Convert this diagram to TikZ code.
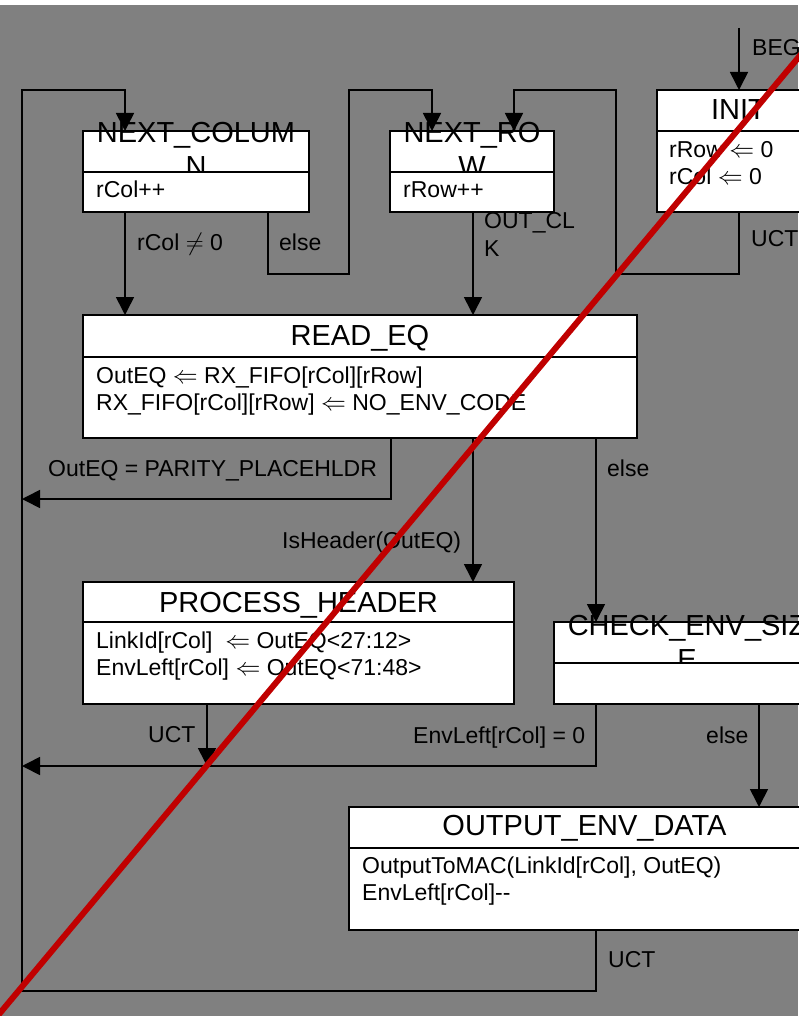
\documentclass[tikz,border=0pt]{standalone}
\usepackage{fontspec}
\setmainfont{Liberation Sans}
\usetikzlibrary{arrows.meta}
\definecolor{bggray}{RGB}{128,128,128}
\definecolor{slashred}{RGB}{192,0,0}
\tikzset{
  boxr/.style={draw=black, fill=white, line width=1.6pt, rectangle, inner sep=0pt, outer sep=0pt, anchor=north west},
  ttl/.style={font=\fontsize{29}{34}\selectfont, inner sep=0pt, anchor=base},
  bdy/.style={font=\fontsize{23}{27}\selectfont, inner sep=0pt, anchor=base west},
  lbl/.style={font=\fontsize{23}{27}\selectfont, inner sep=0pt, anchor=base west},
  conn/.style={line width=1.6pt, draw=black},
  arr/.style={conn, -{Triangle[length=18pt,width=18pt]}},
}
\begin{document}
\begin{tikzpicture}[x=1pt,y=-1pt]
\useasboundingbox (0,0) rectangle (798,1016);
\fill[white] (0,0) rectangle (798,1016);
\fill[bggray] (0,5) rectangle (798,1016);

% NEXT_COLUMN
\node[boxr, minimum width=226pt, minimum height=41pt] (nc) at (83,131) {};
\node[ttl] (nct1) at (196,143) {NEXT\_COLUM};
\node[ttl] (nct2) at (196,177) {N};
\node[boxr, minimum width=226pt, minimum height=40pt] (ncb) at (83,172) {};
\node[bdy] (ncl1) at (96,198) {rCol++};

% NEXT_ROW
\node[boxr, minimum width=164pt, minimum height=41pt] (nr) at (390,131) {};
\node[ttl] (nrt1) at (472,143) {NEXT\_RO};
\node[ttl] (nrt2) at (472,177) {W};
\node[boxr, minimum width=164pt, minimum height=40pt] (nrb) at (390,172) {};
\node[bdy] (nrl1) at (403,198) {rRow++};

% INIT
\node[boxr, minimum width=163pt, minimum height=41pt] (in) at (657,90) {};
\node[ttl] (int1) at (738.5,120) {INIT};
\node[boxr, minimum width=163pt, minimum height=81pt] (inb) at (657,131) {};
\node[bdy] (inl1) at (669,158) {rRow $\Leftarrow$ 0};
\node[bdy] (inl2) at (669,185) {rCol $\Leftarrow$ 0};

% READ_EQ
\node[boxr, minimum width=554pt, minimum height=42pt] (re) at (83,315) {};
\node[ttl] (ret1) at (360,345) {READ\_EQ};
\node[boxr, minimum width=554pt, minimum height=81pt] (reb) at (83,357) {};
\node[bdy] (rel1) at (96,383) {OutEQ $\Leftarrow$ RX\_FIFO[rCol][rRow]};
\node[bdy] (rel2) at (96,410) {RX\_FIFO[rCol][rRow] $\Leftarrow$ NO\_ENV\_CODE};

% PROCESS_HEADER
\node[boxr, minimum width=431pt, minimum height=40pt] (ph) at (83,582) {};
\node[ttl] (pht1) at (298.5,612) {PROCESS\_HEADER};
\node[boxr, minimum width=431pt, minimum height=82pt] (phb) at (83,622) {};
\node[bdy] (phl1) at (96,648) {LinkId[rCol]\ \ $\Leftarrow$ OutEQ<27:12>};
\node[bdy] (phl2) at (96,675) {EnvLeft[rCol] $\Leftarrow$ OutEQ<71:48>};

% CHECK_ENV_SIZE
\node[boxr, minimum width=266pt, minimum height=41pt] (ce) at (554,622) {};
\node[ttl] (cet1) at (687,635) {CHECK\_ENV\_SIZ};
\node[ttl] (cet2) at (687,669) {E};
\node[boxr, minimum width=266pt, minimum height=41pt] (ceb) at (554,663) {};

% OUTPUT_ENV_DATA
\node[boxr, minimum width=471pt, minimum height=41pt] (oe) at (349,807) {};
\node[ttl] (oet1) at (584.5,835) {OUTPUT\_ENV\_DATA};
\node[boxr, minimum width=471pt, minimum height=82pt] (oeb) at (349,848) {};
\node[bdy] (oel1) at (362,873) {OutputToMAC(LinkId[rCol], OutEQ)};
\node[bdy] (oel2) at (362,900) {EnvLeft[rCol]-{}-};

% free ends
\coordinate (beginpt) at (739,28);
\coordinate (leftA) at (22,499);
\coordinate (joinB) at (207,766);
\coordinate (leftB) at (22,766);

% connectors
\draw[arr] (beginpt) -- (739,0 |- in.north);
\draw[arr] (739,0 |- inb.south) -- (739,274) -- (616,274) -- (616,90) -- (514,90) -- (514,0 |- nr.north);
\draw[arr] (125,0 |- ncb.south) -- (125,0 |- re.north);
\draw[arr] (268,0 |- ncb.south) -- (268,274) -- (349,274) -- (349,90) -- (432,90) -- (432,0 |- nr.north);
\draw[arr] (473,0 |- nrb.south) -- (473,0 |- re.north);
\draw[arr] (391,0 |- reb.south) -- (391,499) -- (leftA);
\draw[arr] (473,0 |- reb.south) -- (473,0 |- ph.north);
\draw[arr] (596,0 |- reb.south) -- (596,0 |- ce.north);
\draw[arr] (207,0 |- phb.south) -- (joinB);
\draw[arr] (596,0 |- ceb.south) -- (596,766) -- (leftB);
\draw[arr] (759,0 |- ceb.south) -- (759,0 |- oe.north);
\draw[arr] (596,0 |- oeb.south) -- (596,991) -- (22,991) -- (22,90) -- (125,90) -- (125,0 |- nc.north);

% labels
\node[lbl] (lb1) at (752,56) {BEGIN};
\node[lbl] (lb2) at (751,246) {UCT};
\node[lbl] (lb3) at (137,250) {rCol $\neq$ 0};
\node[lbl] (lb4) at (279,250) {else};
\node[lbl] (lb5) at (484,229) {OUT\_CL};
\node[lbl] (lb6) at (484,256) {K};
\node[lbl] (lb7) at (48,476) {OutEQ = PARITY\_PLACEHLDR};
\node[lbl] (lb8) at (607,476) {else};
\node[lbl] (lb9) at (282,548) {IsHeader(OutEQ)};
\node[lbl] (lb10) at (148,742) {UCT};
\node[lbl] (lb11) at (413,743) {EnvLeft[rCol] = 0};
\node[lbl] (lb12) at (706,743) {else};
\node[lbl] (lb13) at (608,967) {UCT};

% strike-through
\draw[slashred, line width=6pt] (-5,1019) -- (803,52);
\end{tikzpicture}
\end{document}
